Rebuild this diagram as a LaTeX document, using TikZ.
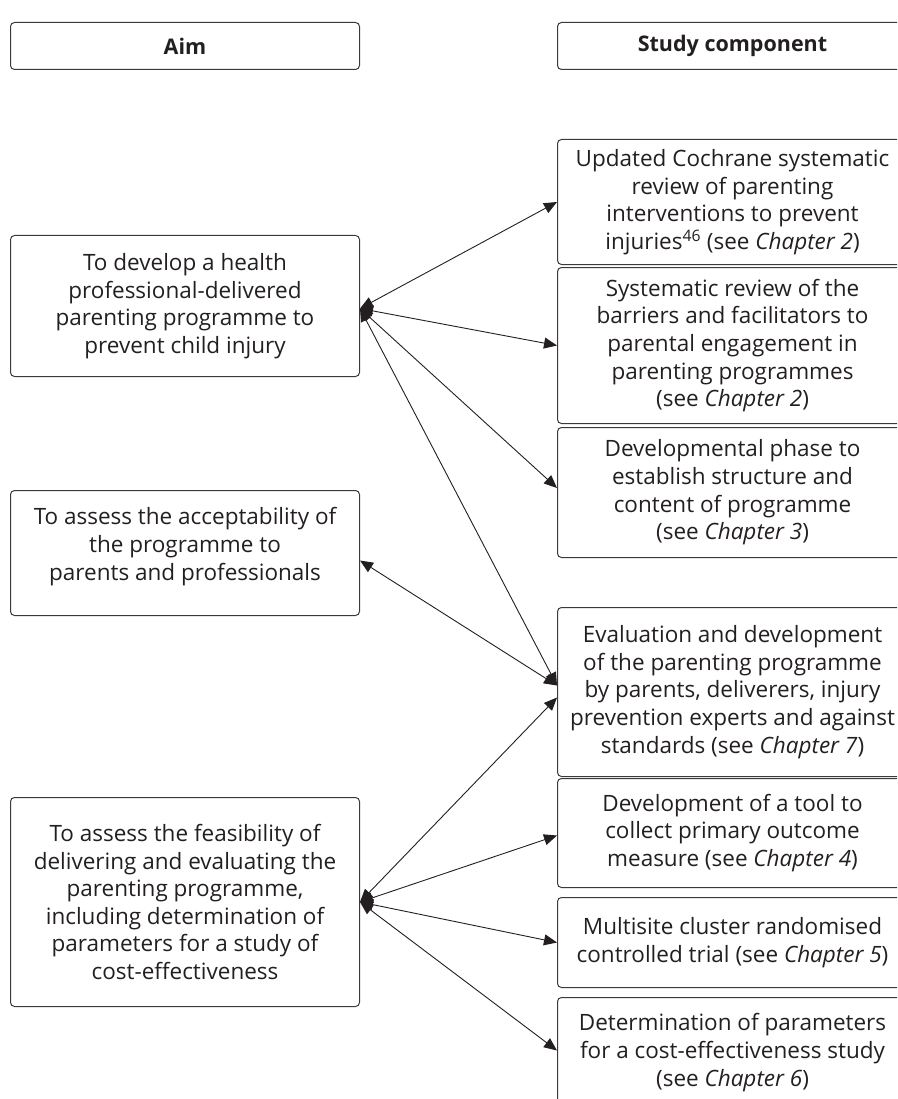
\documentclass[tikz,border=0pt]{standalone}
\usepackage{fontspec}
\setmainfont{Open Sans}
\usetikzlibrary{arrows.meta}

\definecolor{ink}{HTML}{231F20}
\definecolor{frame}{HTML}{3A3A3A}

\tikzset{
  box/.style={draw=frame, line width=1pt, rounded corners=4pt, align=center,
    anchor=north west, inner sep=0pt, text=ink,
    font=\fontsize{22.5}{27.6}\selectfont},
  headbox/.style={box, font=\fontsize{21.5}{27.6}\selectfont\bfseries},
  link/.style={draw=ink, line width=0.9pt,
    {Triangle[length=13pt,width=11pt]}-{Triangle[length=13pt,width=11pt]}}
}

\begin{document}
\begin{tikzpicture}[x=1pt,y=-1pt]
\useasboundingbox (0,0) rectangle (897,1099);
\clip (0,0) rectangle (897,1099);

% column headings
\node[headbox, minimum width=349pt, minimum height=47pt] (hAim) at (10,22) {\raisebox{-2pt}{Aim}};
\node[headbox, minimum width=350pt, minimum height=47pt] (hStudy) at (557,22) {\raisebox{-2pt}{Study component}};

% aims
\node[box, minimum width=349pt, minimum height=141pt] (a1) at (10,235)
  {To develop a health\\professional-delivered\\parenting programme to\\prevent child injury};
\node[box, minimum width=349pt, minimum height=125pt] (a2) at (10,490)
  {To assess the acceptability of\\the programme to\\parents and professionals\\[-9.5pt]};
\node[box, minimum width=349pt, minimum height=209pt] (a3) at (10,797)
  {To assess the feasibility of\\delivering and evaluating the\\parenting programme,\\including determination of\\parameters for a study of\\cost-effectiveness};

% study components
\node[box, minimum width=350pt, minimum height=125pt] (b1) at (557,139)
  {Updated Cochrane systematic\\review of parenting\\interventions to prevent\\injuries\textsuperscript{46} (see \textit{Chapter 2})};
\node[box, minimum width=350pt, minimum height=156pt] (b2) at (557,267)
  {Systematic review of the\\barriers and facilitators to\\parental engagement in\\parenting programmes\\(see \textit{Chapter 2})};
\node[box, minimum width=350pt, minimum height=130pt] (b3) at (557,427)
  {Developmental phase to\\establish structure and\\content of programme\\(see \textit{Chapter 3})};
\node[box, minimum width=350pt, minimum height=169pt] (b4) at (557,607)
  {Evaluation and development\\of the parenting programme\\by parents, deliverers, injury\\prevention experts and against\\standards (see \textit{Chapter 7})};
\node[box, minimum width=350pt, minimum height=109pt] (b5) at (557,778)
  {Development of a tool to\\collect primary outcome\\measure (see \textit{Chapter 4})};
\node[box, minimum width=350pt, minimum height=90pt] (b6) at (557,897)
  {Multisite cluster randomised\\controlled trial (see \textit{Chapter 5})};
\node[box, minimum width=350pt, minimum height=110pt] (b7) at (557,997)
  {Determination of parameters\\for a cost-effectiveness study\\(see \textit{Chapter 6})};

% links between aims and components
\draw[link] ([yshift=-2.5pt]a1.east) -- (b1.west);
\draw[link] ([yshift=-2.5pt]a1.east) -- (b2.west);
\draw[link] ([yshift=-2.5pt]a1.east) -- ([yshift=4.5pt]b3.west);
\draw[link] ([yshift=-2.5pt]a1.east) -- ([yshift=6.5pt]b4.west);
\draw[link] ([yshift=-7.5pt]a2.east) -- ([yshift=6.5pt]b4.west);
\draw[link] (a3.east) -- ([yshift=-5.5pt]b4.west);
\draw[link] (a3.east) -- ([yshift=-2.5pt]b5.west);
\draw[link] (a3.east) -- (b6.west);
\draw[link] (a3.east) -- ([yshift=2pt]b7.west);
\end{tikzpicture}
\end{document}
